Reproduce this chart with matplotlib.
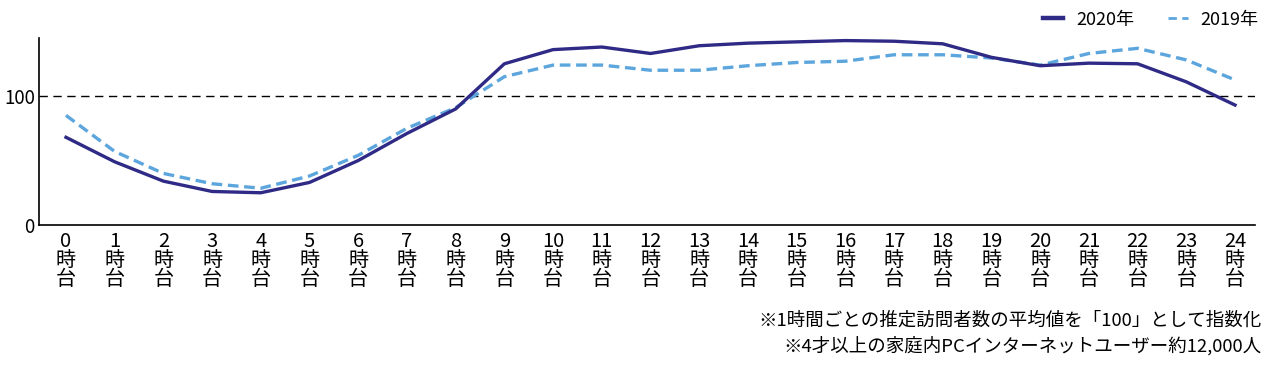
import matplotlib.pyplot as plt
from matplotlib.lines import Line2D

plt.rcParams['font.family'] = ['Noto Sans CJK JP', 'DejaVu Sans']

hours = list(range(25))
tick_labels = [f"{h}\n時\n台" for h in hours]

values_2020 = [68, 49, 34, 26, 25, 33, 50, 71, 90, 125, 136, 138, 133, 139, 141,
               142, 143, 142.5, 140.5, 130, 123.5, 125.5, 125, 111, 93]
values_2019 = [85, 57, 40, 32, 28.5, 38, 54, 75, 91, 115, 124, 124, 120, 120, 123.5,
               126, 127, 132, 132, 129.5, 124, 133, 137, 128, 112.5]

notes = ["※1時間ごとの推定訪問者数の平均値を「100」として指数化",
         "※4才以上の家庭内PCインターネットユーザー約12,000人"]

col_2020 = '#2e2a85'
col_2019 = '#5ca6dd'

fig = plt.figure(figsize=(12.75, 3.66), dpi=100)
ax = fig.add_axes([39 / 1275, 1 - 225 / 366, (1255 - 39) / 1275, (225 - 38) / 366])

ax.axhline(100, color='black', lw=1.0, ls=(0, (6, 4)), zorder=1)
ax.plot(hours, values_2020, color=col_2020, lw=2.4, zorder=3)
ax.plot(hours, values_2019, color=col_2019, lw=2.4, ls=(0, (3.2, 1.7)), zorder=2)

ax.set_xlim(-0.554, 24.41)
ax.set_ylim(0, 145)
ax.set_yticks([0, 100])
ax.set_yticklabels(['0', '100'], fontsize=13.5)
ax.set_xticks(hours)
ax.set_xticklabels(tick_labels, fontsize=14.5, linespacing=0.88)
ax.tick_params(axis='both', length=0, pad=4)
ax.tick_params(axis='y', pad=3)

for s in ['top', 'right']:
    ax.spines[s].set_visible(False)
ax.spines['left'].set_linewidth(1.2)
ax.spines['bottom'].set_linewidth(1.2)

handles = [Line2D([], [], color=col_2020, lw=3.2),
           Line2D([], [], color=col_2019, lw=2.0, ls=(0, (3, 2)))]
fig.legend(handles, ['2020年', '2019年'], loc='upper right', bbox_to_anchor=(1.0, 1.015),
           ncol=2, frameon=False, fontsize=13, handlelength=1.1, handletextpad=0.7,
           columnspacing=1.9)

fig.text(1262 / 1275, 1 - 321 / 366, notes[0], ha='right', va='center', fontsize=13.3)
fig.text(1262 / 1275, 1 - 346 / 366, notes[1], ha='right', va='center', fontsize=13.3)

fig.savefig('out.png', dpi=100)
